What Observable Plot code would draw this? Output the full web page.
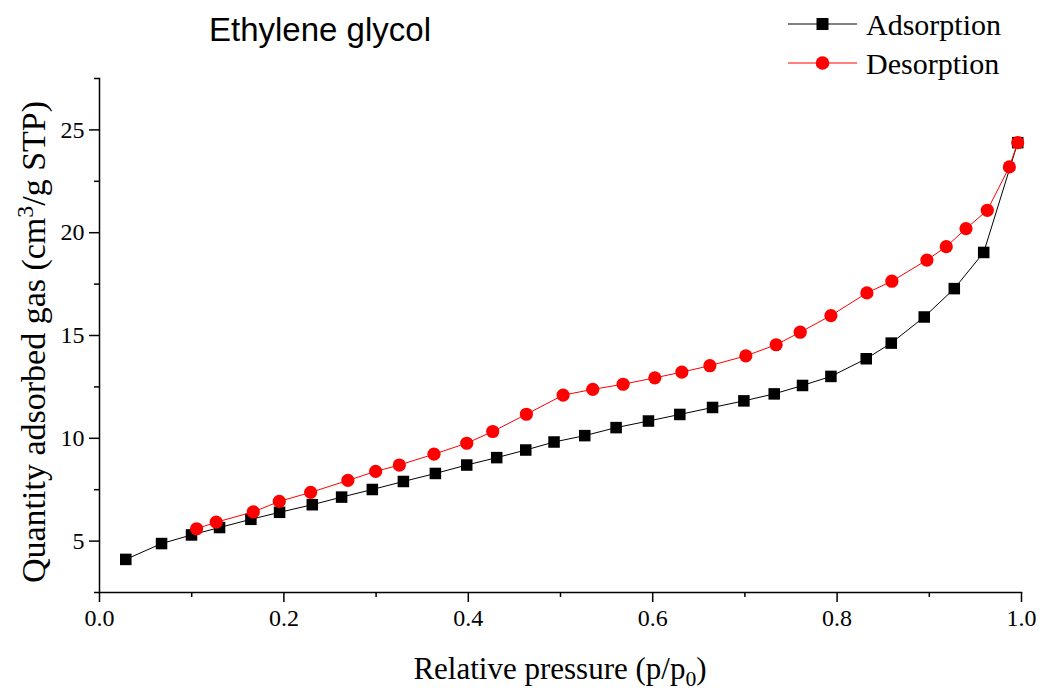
<!DOCTYPE html>
<html>
<head>
<meta charset="utf-8">
<script src="https://cdn.jsdelivr.net/npm/d3@7"></script>
<script src="https://cdn.jsdelivr.net/npm/@observablehq/plot@0.6"></script>
<style>
  html, body { margin: 0; padding: 0; background: white; }
  #wrap { position: relative; width: 1040px; height: 691px; overflow: hidden; }
  .ov { position: absolute; white-space: nowrap; color: black; }
  #title { left: 209px; top: 10px; font: 33px "Liberation Sans", Arial, sans-serif; line-height: 40px; }
  #xlabel { left: 0; width: 1120px; text-align: center; top: 652px; font: 31px "Liberation Serif", "Times New Roman", serif; line-height: 34px; }
  #ylabel { left: 34px; top: 342px; transform: translate(-50%, -50%) rotate(-90deg); font: 34px "Liberation Serif", "Times New Roman", serif; line-height: 38px; }
  #legend { left: 780px; top: 0px; }
  sup, sub { font-size: 70%; line-height: 0; }
</style>
</head>
<body>
<div id="wrap">
  <div id="chart"></div>
  <div id="title" class="ov"></div>
  <div id="xlabel" class="ov">Relative pressure (p/p<sub>0</sub>)</div>
  <div id="ylabel" class="ov">Quantity adsorbed gas (cm<sup>3</sup>/g STP)</div>
  <svg id="legend" class="ov" width="260" height="90"></svg>
</div>
<script>
// ---- data ----
const chartTitle = "Ethylene glycol";
const seriesNames = ["Adsorption", "Desorption"];

const pressureAds = [0.0285,0.0673,0.0998,0.1302,0.1642,0.1953,0.2308,0.2626,0.2959,0.3296,
  0.3643,0.3983,0.4308,0.4623,0.4930,0.5263,0.5603,0.5954,0.6294,0.6649,
  0.6989,0.7318,0.7625,0.7933,0.8316,0.8587,0.8945,0.9271,0.9590,0.9959];
const quantityAds = [4.11,4.88,5.30,5.66,6.06,6.40,6.77,7.14,7.51,7.90,
  8.29,8.70,9.06,9.43,9.82,10.13,10.52,10.84,11.16,11.50,
  11.82,12.16,12.57,13.01,13.87,14.63,15.90,17.28,19.04,24.38];

const pressureDes = [0.9959,0.9868,0.9629,0.9398,0.9184,0.8974,0.8594,0.8323,0.7933,0.7600,
  0.7339,0.7010,0.6620,0.6316,0.6023,0.5679,0.5350,0.5028,0.4630,0.4265,
  0.3983,0.3628,0.3252,0.2995,0.2694,0.2290,0.1950,0.1668,0.1266,0.1053];
const quantityDes = [24.38,23.20,21.09,20.20,19.32,18.67,17.64,17.07,15.97,15.16,
  14.55,14.01,13.53,13.22,12.94,12.63,12.38,12.10,11.17,10.33,
  9.76,9.23,8.70,8.39,7.95,7.37,6.93,6.42,5.92,5.60];

const xTicks = [0, 0.2, 0.4, 0.6, 0.8, 1.0];
const xMinorTicks = [0.1, 0.3, 0.5, 0.7, 0.9];
const yTicks = [5, 10, 15, 20, 25];
const yMinorTicks = [2.5, 7.5, 12.5, 17.5, 22.5, 27.5];

// ---- tables ----
const ads = pressureAds.map((p, i) => ({p, q: quantityAds[i]}));
const des = pressureDes.map((p, i) => ({p, q: quantityDes[i]}));

const chart = Plot.plot({
  width: 1040,
  height: 691,
  marginLeft: 99,
  marginRight: 19,
  marginTop: 78,
  marginBottom: 99,
  x: {domain: [0, 1]},
  y: {domain: [2.5, 27.5]},
  style: {fontFamily: "'Liberation Serif', 'Times New Roman', serif", fontSize: "24px", background: "white", color: "black"},
  marks: [
    Plot.frame({anchor: "bottom", stroke: "black", strokeWidth: 1.5}),
    Plot.frame({anchor: "left", stroke: "black", strokeWidth: 1.5}),
    Plot.axisX({ticks: xTicks, tickSize: 10, tickPadding: 6, strokeWidth: 1.5, tickFormat: d3.format(".1f"), label: null}),
    Plot.axisX({ticks: xMinorTicks, tickSize: 5, strokeWidth: 1.5, text: null, label: null}),
    Plot.axisY({ticks: yTicks, tickSize: 10, tickPadding: 5, strokeWidth: 1.5, label: null}),
    Plot.axisY({ticks: yMinorTicks, tickSize: 5, strokeWidth: 1.5, text: null, label: null}),
    Plot.line(ads, {x: "p", y: "q", stroke: "black", strokeWidth: 1}),
    Plot.dot(ads, {x: "p", y: "q", symbol: "square", fill: "black", r: 6.5}),
    Plot.line(des, {x: "p", y: "q", stroke: "#ff0000", strokeWidth: 1}),
    Plot.dot(des, {x: "p", y: "q", symbol: "circle", fill: "#ff0000", r: 6.6})
  ]
});
document.getElementById("chart").appendChild(chart);
document.getElementById("title").textContent = chartTitle;

// ---- legend ----
const lg = d3.select("#legend");
const legendItems = [
  {name: seriesNames[0], color: "black", symbol: "square"},
  {name: seriesNames[1], color: "#ff0000", symbol: "circle"}
];
legendItems.forEach((it, i) => {
  const cy = 24 + i * 39;
  lg.append("line").attr("x1", 8).attr("x2", 77).attr("y1", cy).attr("y2", cy)
    .attr("stroke", it.color).attr("stroke-width", 1);
  if (it.symbol === "square") {
    lg.append("rect").attr("x", 42.5 - 6).attr("y", cy - 6).attr("width", 12).attr("height", 12).attr("fill", it.color);
  } else {
    lg.append("circle").attr("cx", 42.5).attr("cy", cy).attr("r", 6.8).attr("fill", it.color);
  }
  lg.append("text").attr("x", 86).attr("y", cy).attr("dy", "0.35em")
    .style("font", "30px 'Liberation Serif', 'Times New Roman', serif")
    .attr("fill", "black").text(it.name);
});
</script>
</body>
</html>
